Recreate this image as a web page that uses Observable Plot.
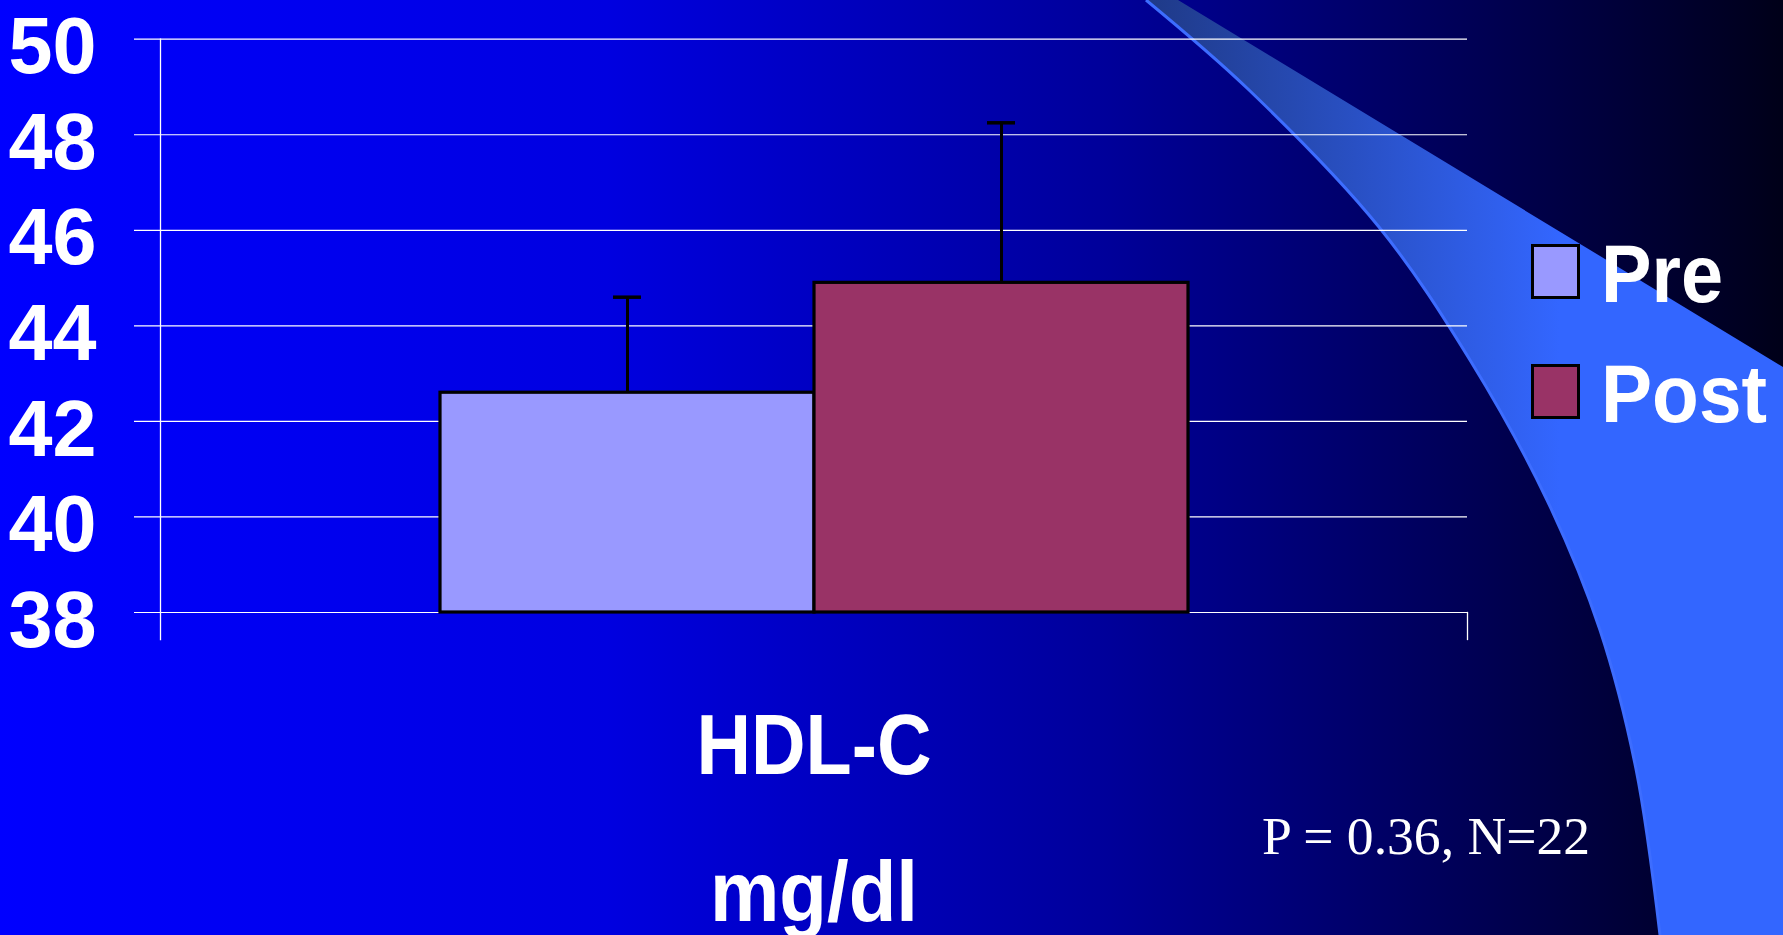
<!DOCTYPE html>
<html>
<head>
<meta charset="utf-8">
<script src="https://cdn.jsdelivr.net/npm/d3@7"></script>
<script src="https://cdn.jsdelivr.net/npm/@observablehq/plot@0.6"></script>
<style>
  html, body { margin: 0; padding: 0; width: 1783px; height: 935px; overflow: hidden; background: #000; }
  #stage {
    position: relative; width: 1783px; height: 935px;
    background: linear-gradient(to right, #0000ff 0%, #0000e0 34%, #00009a 62%, #000050 84%, #000020 98%, #000018 100%);
  }
  #stage > svg { position: absolute; left: 0; top: 0; }
</style>
</head>
<body>
<div id="stage"></div>
<script>
// HDL cholesterol before and after treatment (mean with error bar)
const groups = ["Pre", "Post"];
const means = [42.6, 44.9];
const errors = [2.0, 3.35];
const colors = ["#9999ff", "#993366"];
const yTicks = [38, 40, 42, 44, 46, 48, 50];
const category = "HDL-C";
const unit = "mg/dl";
const note = "P = 0.36, N=22";

const data = groups.map((group, i) => ({group, mean: means[i], top: means[i] + errors[i]}));

const W = 1783, H = 935;
const stage = d3.select("#stage");

// Decorative swoosh on the right side of the slide
const deco = stage.append("svg").attr("width", W).attr("height", H);
const grad = deco.append("defs").append("linearGradient")
  .attr("id", "swoosh").attr("gradientUnits", "userSpaceOnUse")
  .attr("x1", 1150).attr("y1", 0).attr("x2", 1560).attr("y2", 0);
grad.append("stop").attr("offset", 0).attr("stop-color", "#1f3a88");
grad.append("stop").attr("offset", 1).attr("stop-color", "#3366ff");
const edge = [[1146, 0], [1248, 89], [1379, 227], [1470, 360], [1547, 500], [1600, 630], [1636, 769], [1660, 935]];
const curve = d3.line().curve(d3.curveCatmullRom.alpha(0.5))(edge);
deco.append("path")
  .attr("d", curve + `L${W},${H}L${W},367L1178,0Z`)
  .attr("fill", "url(#swoosh)");
deco.append("path").attr("d", curve).attr("fill", "none")
  .attr("stroke", "#3d6dff").attr("stroke-width", 3);

// The bar chart
const chart = Plot.plot({
  width: W,
  height: H,
  marginLeft: 160,
  marginRight: 316,
  marginTop: 38.7,
  marginBottom: 323,
  style: {background: "transparent", color: "white", fontFamily: "'Liberation Sans', Arial, sans-serif", overflow: "visible"},
  x: {domain: groups, range: [439, 1188], padding: 0, axis: null},
  y: {domain: [38, 50], axis: null},
  color: {domain: groups, range: colors},
  marks: [
    Plot.ruleY(yTicks, {stroke: "white", strokeWidth: 1.2, insetLeft: -26}),
    Plot.frame({anchor: "left", stroke: "white", strokeWidth: 1.3, insetBottom: -27}),
    Plot.frame({anchor: "right", stroke: "white", strokeWidth: 1.3, insetTop: 573.3, insetBottom: -27}),
    Plot.barY(data, {x: "group", y1: 38, y2: "mean", fill: "group", stroke: "black", strokeWidth: 3.2}),
    Plot.ruleX(data, {x: "group", y1: "mean", y2: "top", stroke: "black", strokeWidth: 3}),
    Plot.tickY(data, {x: "group", y: "top", stroke: "black", strokeWidth: 3.5, inset: 173}),
    Plot.axisY({ticks: yTicks, tickSize: 0, tickPadding: 64, fontSize: 80, fontWeight: "bold", fill: "white", dy: 8.5, label: null}),
    Plot.text([category], {frameAnchor: "bottom", lineAnchor: "bottom", dy: 161, fontSize: 86, fontWeight: "bold", fill: "white"}),
    Plot.text([unit], {frameAnchor: "bottom", lineAnchor: "bottom", dy: 308, fontSize: 86, fontWeight: "bold", fill: "white"})
  ]
});
stage.node().append(chart);

// Slightly condensed lettering, as on the slide
const svgSel = d3.select(chart.tagName.toLowerCase() === "svg" ? chart : chart.querySelector("svg"));
const condensed = new Map([[category, 235], [unit, 208]]);
yTicks.forEach(t => condensed.set(String(t), 88));
svgSel.selectAll("text").each(function() {
  const len = condensed.get(this.textContent);
  if (len) d3.select(this).attr("textLength", len).attr("lengthAdjust", "spacingAndGlyphs");
});

// Legend and statistics note
const over = stage.append("svg").attr("width", W).attr("height", H);
const rows = over.selectAll("g.row").data(groups).join("g")
  .attr("transform", (d, i) => `translate(1531,${244 + i * 120})`);
rows.append("rect").attr("x", 1.5).attr("y", 1.5).attr("width", 46).attr("height", 52)
  .attr("fill", (d, i) => colors[i]).attr("stroke", "black").attr("stroke-width", 3);
rows.append("text").attr("x", 70).attr("y", 57.5)
  .attr("fill", "white").attr("font-family", "'Liberation Sans', Arial, sans-serif")
  .attr("font-weight", "bold").attr("font-size", 81)
  .attr("textLength", d => d === "Pre" ? 122 : 166).attr("lengthAdjust", "spacingAndGlyphs")
  .text(d => d);
over.append("text").attr("x", 1262).attr("y", 853.5)
  .attr("fill", "white").attr("font-family", "'Liberation Serif', 'Times New Roman', serif")
  .attr("font-size", 52).attr("textLength", 328).attr("lengthAdjust", "spacingAndGlyphs")
  .text(note);
</script>
</body>
</html>
